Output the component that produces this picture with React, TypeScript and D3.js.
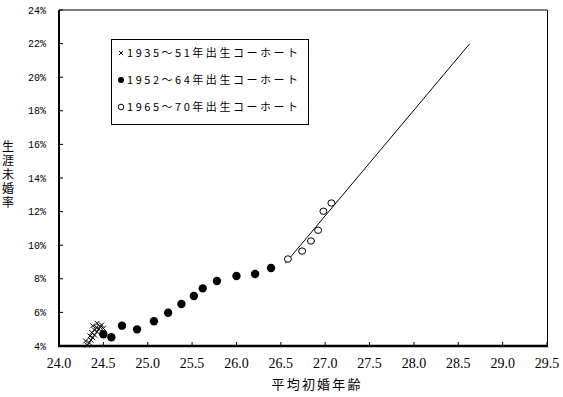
import React from 'react'
import * as d3 from 'd3'

// 1935～51年出生コーホート (×)
const oldAge = [24.32, 24.34, 24.3, 24.36, 24.38, 24.35, 24.4, 24.37, 24.43, 24.4, 24.45, 24.42, 24.38, 24.46, 24.43, 24.48, 24.5]
const oldRate = [4.05, 4.2, 4.3, 4.35, 4.5, 4.6, 4.65, 4.8, 4.85, 4.95, 5.0, 5.1, 5.2, 5.15, 5.35, 5.25, 5.05]

// 1952～64年出生コーホート (●)
const midAge = [24.5, 24.59, 24.71, 24.88, 25.07, 25.23, 25.38, 25.52, 25.62, 25.78, 26.0, 26.21, 26.39]
const midRate = [4.7, 4.52, 5.21, 4.99, 5.47, 5.98, 6.5, 6.98, 7.43, 7.87, 8.17, 8.29, 8.64]

// 1965～70年出生コーホート (○)
const newAge = [26.58, 26.74, 26.84, 26.92, 26.98, 27.07]
const newRate = [9.18, 9.65, 10.25, 10.89, 12.02, 12.51]

// 推計線
const trendAge = [26.55, 28.63]
const trendRate = [8.92, 22.0]

const xTicks = [24.0, 24.5, 25.0, 25.5, 26.0, 26.5, 27.0, 27.5, 28.0, 28.5, 29.0, 29.5]
const yTicks = [4, 6, 8, 10, 12, 14, 16, 18, 20, 22, 24]

const legendMarks = ['cross', 'dot', 'ring']
const legendLabels = ['1935～51年出生コーホート', '1952～64年出生コーホート', '1965～70年出生コーホート']

const W = 563
const H = 397
const left = 59
const right = 547
const top = 10
const bottom = 346

const crossPath = (cx: number, cy: number, s: number) =>
  `M${cx - s},${cy - s}L${cx + s},${cy + s}M${cx - s},${cy + s}L${cx + s},${cy - s}`

export default function App() {
  const x = d3.scaleLinear().domain([24, 29.5]).range([left, right])
  const y = d3.scaleLinear().domain([4, 24]).range([bottom, top])

  const trend = d3.line<number>()
    .x((d, i) => x(trendAge[i]))
    .y((d) => y(d))(trendRate)

  const jp = '"Noto Sans CJK JP", sans-serif'

  return (
    <svg width={W} height={H} style={{ position: 'absolute', left: 0, top: 0, background: '#fff' }}>
      {/* frame */}
      <line x1={left} y1={top} x2={right} y2={top} stroke="#000" strokeWidth={1} />
      <line x1={right + 0.5} y1={top} x2={right + 0.5} y2={bottom} stroke="#000" strokeWidth={1} />
      <line x1={left} y1={top} x2={left} y2={bottom + 1} stroke="#000" strokeWidth={2} />
      <line x1={left - 1} y1={bottom} x2={right + 1} y2={bottom} stroke="#000" strokeWidth={2.5} />

      {yTicks.map((t) => (
        <g key={'y' + t}>
          <line x1={left} x2={left + 4} y1={y(t)} y2={y(t)} stroke="#000" />
          <text x={46} y={y(t)} dy="0.35em" textAnchor="end" fontFamily='"Liberation Mono", monospace' fontSize={10}>{t}%</text>
        </g>
      ))}
      {xTicks.map((t) => (
        <g key={'x' + t}>
          <line x1={x(t)} x2={x(t)} y1={bottom} y2={bottom - 4} stroke="#000" />
          <text x={x(t)} y={368} textAnchor="middle" fontFamily='"Liberation Serif", serif' fontSize={14}>{t.toFixed(1)}</text>
        </g>
      ))}

      {/* axis titles */}
      <text x={316} y={389} textAnchor="middle" fontFamily={jp} fontSize={13} textLength={89} lengthAdjust="spacing">平均初婚年齢</text>
      <text x={8} y={140} fontFamily={jp} fontSize={12} letterSpacing={2} style={{ writingMode: 'vertical-rl' }}>生涯未婚率</text>

      {/* trend line */}
      <path d={trend || ''} fill="none" stroke="#000" strokeWidth={1} />

      {/* crosses */}
      {oldAge.map((a, i) => (
        <path key={'o' + i} d={crossPath(x(a), y(oldRate[i]), 2.5)} stroke="#000" strokeWidth={1} />
      ))}
      {midAge.map((a, i) => (
        <circle key={'m' + i} cx={x(a)} cy={y(midRate[i])} r={4.2} fill="#000" />
      ))}
      {newAge.map((a, i) => (
        <ellipse key={'n' + i} cx={x(a)} cy={y(newRate[i])} rx={3.5} ry={3.2} fill="#fff" stroke="#000" strokeWidth={1} />
      ))}

      {/* legend */}
      <rect x={111.5} y={39.5} width={197} height={85} fill="none" stroke="#000" strokeWidth={1} />
      {legendLabels.map((l, i) => {
        const ly = 53 + i * 27
        const m = legendMarks[i]
        return (
          <g key={l}>
            {m === 'cross' && <path d={crossPath(121, ly, 2)} stroke="#000" strokeWidth={1} />}
            {m === 'dot' && <circle cx={121} cy={ly} r={3} fill="#000" />}
            {m === 'ring' && <circle cx={121} cy={ly} r={2.8} fill="none" stroke="#000" strokeWidth={1} />}
            <text x={127} y={ly} dy="0.35em" fontFamily={jp} fontSize={11} textLength={171} lengthAdjust="spacing">{l}</text>
          </g>
        )
      })}
    </svg>
  )
}
